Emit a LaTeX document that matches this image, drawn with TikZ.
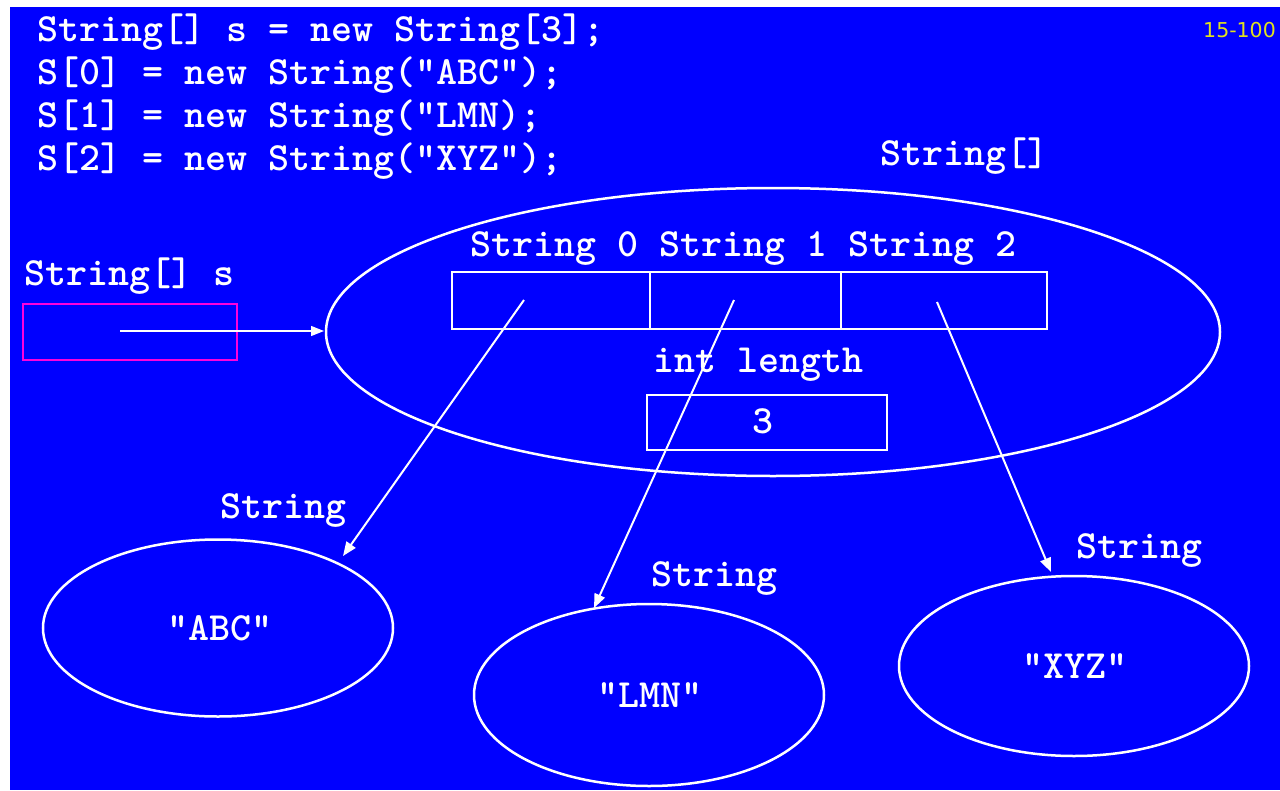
\documentclass[tikz,border=0pt]{standalone}
\usepackage{fontspec}
\setmainfont{DejaVu Sans}
\usetikzlibrary{arrows.meta,shapes.geometric}
\definecolor{slideblue}{RGB}{0,0,255}
\definecolor{refpink}{RGB}{255,0,220}
\definecolor{pagenum}{RGB}{225,225,30}
\tikzset{
  code/.style={text=white, font=\fontsize{40}{40}\selectfont\ttfamily\bfseries, inner sep=0pt},
  frame/.style={draw=white, line width=2.5pt},
  objshape/.style={draw=white, line width=2.5pt},
  ref/.style={draw=white, line width=2pt, -{Triangle[length=14pt,width=11pt]}},
}
\begin{document}
\begin{tikzpicture}[x=1pt, y=-1pt]
  \useasboundingbox (0,0) rectangle (1280,790);
  \clip (0,0) rectangle (1280,790);
  % slide background with white margin at top and left
  \fill[white] (0,0) rectangle (1280,790);
  \fill[slideblue] (10,7) rectangle (1280,790);

  % page number
  \node[anchor=base west, inner sep=0pt, text=pagenum, font=\fontsize{20.5}{20.5}\selectfont] (pg) at (1203,37) {15-100};

  % source code
  \node[code, anchor=base west] (l1) at (37,41)  {String[] s = new String[3];};
  \node[code, anchor=base west] (l2) at (37,84)  {S[0] = new String("ABC");};
  \node[code, anchor=base west] (l3) at (37,127) {S[1] = new String("LMN);};
  \node[code, anchor=base west] (l4) at (37,170) {S[2] = new String("XYZ");};

  % reference variable s
  \node[code, anchor=base west] (slabel) at (24,285) {String[] s};
  \node[draw=refpink, line width=2.5pt, minimum width=214pt, minimum height=56pt, inner sep=0pt] (svar) at (130,332) {};
  \coordinate (sfrom) at (120,331);

  % the array object
  \node[objshape, ellipse, minimum width=894pt, minimum height=288pt, inner sep=0pt] (arr) at (773,332) {};
  \node[code, anchor=base west] (arrlabel) at (880,165) {String[]};
  \node[code, anchor=base west] (cells) at (470,256) {String 0 String 1 String 2};
  \node[frame, minimum width=198pt, minimum height=57pt, inner sep=0pt] (c0) at (551,300.5) {};
  \node[frame, minimum width=191pt, minimum height=57pt, inner sep=0pt] (c1) at (745.5,300.5) {};
  \node[frame, minimum width=206pt, minimum height=57pt, inner sep=0pt] (c2) at (944,300.5) {};
  \node[code, anchor=base west] (lenlabel) at (653,372) {int length};
  \node[frame, minimum width=240pt, minimum height=55pt, inner sep=0pt] (len) at (767,422.5) {};
  \node[code, anchor=base] (lenval) at (763,433) {3};

  % string objects
  \node[objshape, ellipse, minimum width=350pt, minimum height=177pt, inner sep=0pt] (abc) at (218,628) {};
  \node[code, anchor=base] (abctext) at (220,640) {"ABC"};
  \node[code, anchor=base west] (abclabel) at (220,518) {String};

  \node[objshape, ellipse, minimum width=350pt, minimum height=182pt, inner sep=0pt] (lmn) at (649,695) {};
  \node[code, anchor=base] (lmntext) at (650,707) {"LMN"};
  \node[code, anchor=base west] (lmnlabel) at (651,586) {String};

  \node[objshape, ellipse, minimum width=350pt, minimum height=180pt, inner sep=0pt] (xyz) at (1074,666) {};
  \node[code, anchor=base] (xyztext) at (1075,678) {"XYZ"};
  \node[code, anchor=base west] (xyzlabel) at (1076,558) {String};

  % reference start and end points
  \coordinate (p0) at (524,300);
  \coordinate (p1) at (734,300);
  \coordinate (p2) at (937,302);
  \coordinate (t0) at (343,556);
  \coordinate (t1) at (594,608);
  \coordinate (t2) at (1051,572);
  \coordinate (tarr) at (324,331);

  % references
  \draw[white, line width=1.2pt, -{Triangle[length=13pt,width=10pt]}] (sfrom) -- (tarr);
  \draw[ref] (p0) -- (t0);
  \draw[ref] (p1) -- (t1);
  \draw[ref] (p2) -- (t2);
\end{tikzpicture}
\end{document}
